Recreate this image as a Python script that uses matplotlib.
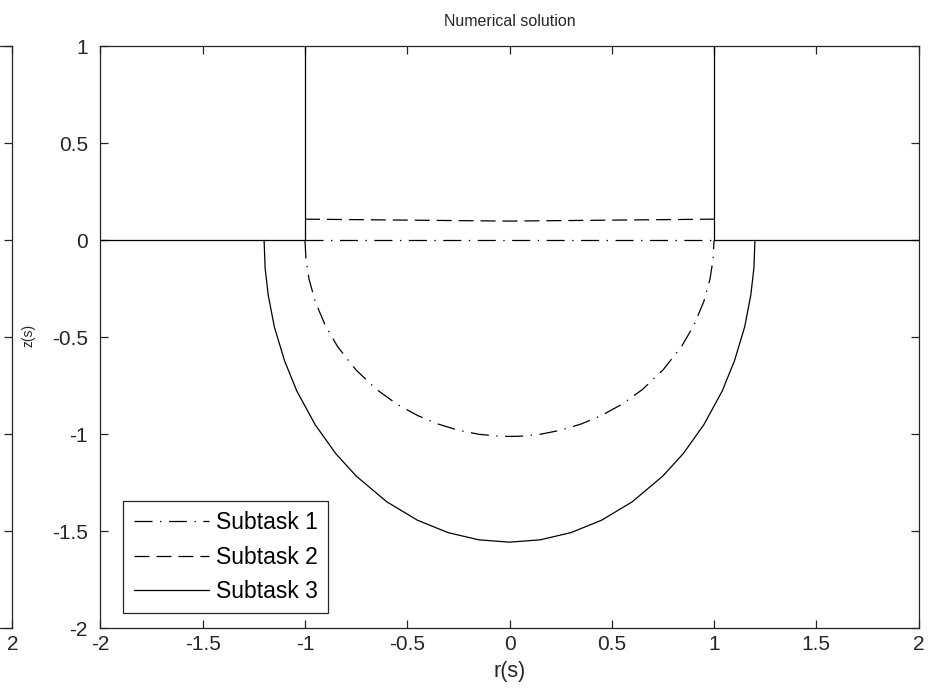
import matplotlib
matplotlib.use('Agg')
import matplotlib.pyplot as plt

# values
# Subtask 1: flat top at z=0 and the lower arc
s1_top_r = [-1.0, 1.0]
s1_top_z = [0.0, 0.0]
s1_r = [-1.0, -0.995, -0.98, -0.95, -0.9, -0.84, -0.75, -0.65, -0.55, -0.45, -0.35, -0.25, -0.15, -0.05, 0.0,
        0.05, 0.15, 0.25, 0.35, 0.45, 0.55, 0.65, 0.75, 0.84, 0.9, 0.95, 0.98, 0.995, 1.0]
s1_z = [0.0, -0.10, -0.20, -0.315, -0.44, -0.548, -0.668, -0.768, -0.844, -0.902, -0.946, -0.978, -0.999, -1.009, -1.01,
        -1.009, -0.999, -0.978, -0.946, -0.902, -0.844, -0.768, -0.668, -0.548, -0.44, -0.315, -0.20, -0.10, 0.0]

# Subtask 2: only the flat line a bit above zero
s2_r = [-1.0, -0.5, 0.0, 0.5, 1.0]
s2_z = [0.11, 0.105, 0.10, 0.105, 0.11]

# Subtask 3: wider and deeper arc
s3_r = [-1.2, -1.195, -1.18, -1.15, -1.1, -1.04, -0.95, -0.85, -0.75, -0.6, -0.45, -0.3, -0.15, 0.0,
        0.15, 0.3, 0.45, 0.6, 0.75, 0.85, 0.95, 1.04, 1.1, 1.15, 1.18, 1.195, 1.2]
s3_z = [0.0, -0.142, -0.28, -0.445, -0.62, -0.776, -0.95, -1.098, -1.214, -1.347, -1.442, -1.506, -1.543, -1.555,
        -1.543, -1.506, -1.442, -1.347, -1.214, -1.098, -0.95, -0.776, -0.62, -0.445, -0.28, -0.142, 0.0]

# domain boundary (solid, not in legend)
wall_left_r = [-2.0, -1.0, -1.0]
wall_left_z = [0.0, 0.0, 1.0]
wall_right_r = [1.0, 1.0, 2.0]
wall_right_z = [1.0, 0.0, 0.0]

xticks = [-2, -1.5, -1, -0.5, 0, 0.5, 1, 1.5, 2]
xtick_labels = ['-2', '-1.5', '-1', '-0.5', '0', '0.5', '1', '1.5', '2']
yticks = [-2, -1.5, -1, -0.5, 0, 0.5, 1]
ytick_labels = ['-2', '-1.5', '-1', '-0.5', '0', '0.5', '1']

plt.rcParams['font.family'] = ['Liberation Sans', 'DejaVu Sans']
plt.rcParams['axes.unicode_minus'] = False
plt.rcParams['lines.scale_dashes'] = False

fig = plt.figure(figsize=(9.33, 6.94), dpi=100)

dashdot = (0, (13, 5.4, 1, 5.4))
dashed = (0, (10.8, 5))
lw = 0.9
ink = '#262626'


def style_axes(ax):
    ax.set_xlim(-2, 2)
    ax.set_ylim(-2, 1)
    ax.set_xticks(xticks)
    ax.set_yticks(yticks)
    ax.tick_params(direction='in', length=6, width=0.9, top=True, right=True,
                   labelsize=15, colors=ink)
    ax.tick_params(axis='y', pad=9)
    ax.tick_params(axis='x', pad=5)
    for sp in ax.spines.values():
        sp.set_linewidth(0.9)
        sp.set_color(ink)


# neighbouring subplot, mostly off the left edge (only its last x label shows)
ax0 = fig.add_axes([-0.8635, 0.0944, 0.8768, 0.8386])
style_axes(ax0)
ax0.set_xticklabels(['' for t in xtick_labels[:-1]] + [xtick_labels[-1]])
ax0.set_yticklabels(['' for t in ytick_labels])

ax = fig.add_axes([0.1077, 0.0944, 0.8768, 0.8386])
style_axes(ax)
ax.set_xticklabels(xtick_labels)
ax.set_yticklabels(ytick_labels)

ax.plot(wall_left_r, wall_left_z, color='k', lw=lw)
ax.plot(wall_right_r, wall_right_z, color='k', lw=lw)
ax.plot(s1_r, s1_z, color='k', lw=lw, linestyle=dashdot, label='Subtask 1')
ax.plot(s1_top_r, s1_top_z, color='k', lw=lw, linestyle=dashdot)
ax.plot(s2_r, s2_z, color='k', lw=lw, linestyle=dashed, label='Subtask 2')
ax.plot(s3_r, s3_z, color='k', lw=lw, linestyle='-', label='Subtask 3')

h, l = ax.get_legend_handles_labels()
leg = ax.legend(h, l, loc='lower left', bbox_to_anchor=(0.028, 0.026), borderaxespad=0,
                fontsize=16.5, handlelength=3.3, handletextpad=0.3, labelspacing=0.5,
                fancybox=False, framealpha=1, borderpad=0.45)
leg.get_frame().set_edgecolor(ink)
leg.get_frame().set_linewidth(0.9)

ax.set_title('Numerical solution', fontsize=11.5, pad=15, color=ink)
ax.set_xlabel('r(s)', fontsize=15.5, labelpad=5, color=ink)
ax.set_ylabel('z(s)', fontsize=10, color=ink)
ax.yaxis.set_label_coords(-0.0795, 0.504)

fig.savefig('out.png', dpi=100)
